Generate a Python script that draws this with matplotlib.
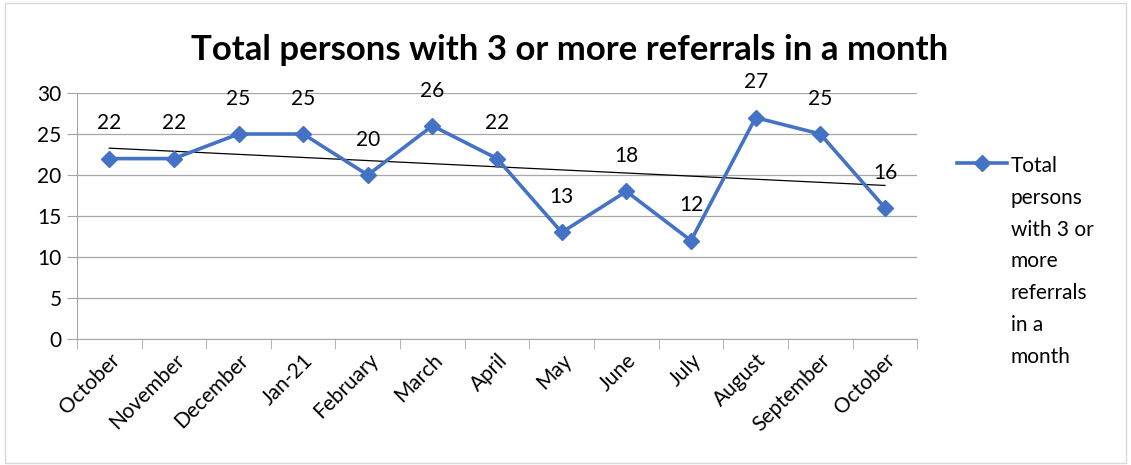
import numpy as np
import matplotlib.pyplot as plt
from matplotlib.patches import Rectangle

months = ["October", "November", "December", "Jan-21", "February", "March", "April",
          "May", "June", "July", "August", "September", "October"]
referrals = [22, 22, 25, 25, 20, 26, 22, 13, 18, 12, 27, 25, 16]
series_name = "Total persons with 3 or more referrals in a month"
legend_text = "Total\npersons\nwith 3 or\nmore\nreferrals\nin a\nmonth"

plt.rcParams['font.family'] = ['Lato', 'DejaVu Sans']

fig = plt.figure(figsize=(11.31, 4.65), dpi=100)
ax = fig.add_axes([0.068, 0.271, 0.743, 0.529])

x = np.arange(len(months))
line, = ax.plot(x, referrals, color='#4472C4', linewidth=2.6, marker='D',
                markersize=8.5, label=legend_text, zorder=3)

# linear trendline
coef = np.polyfit(x, referrals, 1)
ax.plot(x, np.polyval(coef, x), color='black', linewidth=0.9, zorder=2)

for xi, v in zip(x, referrals):
    ax.annotate(str(v), (xi, v), xytext=(0, 21), textcoords='offset points',
                ha='center', va='baseline', fontsize=15)

ax.set_xlim(-0.5, len(months) - 0.5)
ax.set_ylim(0, 30)
ax.set_yticks(range(0, 31, 5))
ax.set_xticks(x)
ax.set_xticklabels(months, rotation=45, ha='right', rotation_mode='anchor', fontsize=15)
ax.set_xticks(np.arange(-0.5, len(months)), minor=True)
ax.tick_params(axis='x', which='major', length=0, pad=8)
ax.tick_params(axis='x', which='minor', length=7, color='#a6a6a6', direction='out')
ax.tick_params(axis='y', length=7, color='#a6a6a6', labelsize=15, pad=4)

ax.grid(axis='y', color='#a6a6a6', linewidth=0.9)
ax.set_axisbelow(True)
for s in ['top', 'right']:
    ax.spines[s].set_visible(False)
ax.spines['left'].set_color('#a6a6a6')
ax.spines['bottom'].set_color('#a6a6a6')

fig.text(0.504, 0.893, series_name, ha='center', va='center', fontsize=25, fontweight='bold')

leg = fig.legend(handles=[line], loc='upper left', bbox_to_anchor=(0.83, 0.705), frameon=False,
                 fontsize=15, handlelength=2.4, labelspacing=0, handletextpad=0.15)
leg.get_texts()[0].set_linespacing(1.74)
for col in leg._legend_handle_box.get_children():
    for row in col.get_children():
        row.align = 'top'

fig.add_artist(Rectangle((0.004, 0.004), 0.992, 0.99, transform=fig.transFigure,
                         fill=False, edgecolor='#d9d9d9', linewidth=1))

fig.savefig('out.png', dpi=100)
